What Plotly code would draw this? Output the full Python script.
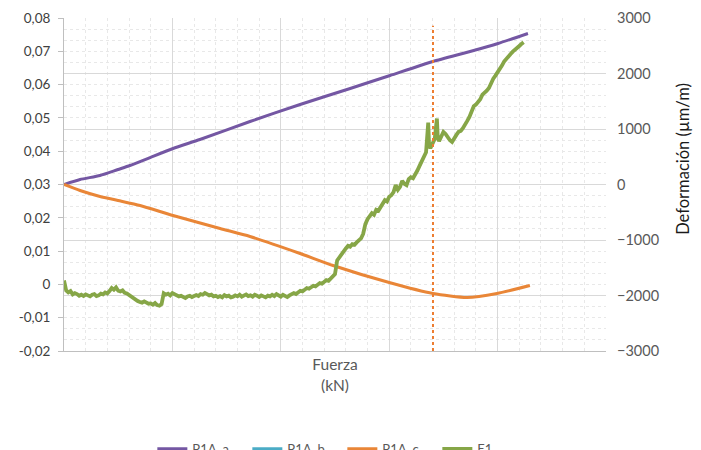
import plotly.graph_objects as go

# Strain gauges (µm/m) vs applied force (kN)
p1a_a_x = [0, 7.4, 16.6, 24.9, 30.4, 39.7, 50.3, 62.7, 85.8, 108.9, 132.0, 150.4, 170.2, 187.3, 200.2, 214.0]
p1a_a_y = [0, 90, 162, 270, 342, 486, 649, 811, 1135, 1441, 1730, 1964, 2216, 2396, 2541, 2721]

# P1A_b has no readings in this test
p1a_b_x = [None]
p1a_b_y = [None]

p1a_c_x = [0, 7.4, 16.6, 24.9, 35.1, 50.3, 72.0, 85.8, 108.9, 124.1, 150.0, 170.2, 185.9, 199.7, 214.9]
p1a_c_y = [0, -108, -216, -288, -378, -559, -793, -937, -1243, -1459, -1766, -1964, -2036, -1964, -1820]

# E1 reading (left axis)
e1_x = list(range(0, 168)) + [168, 168.4, 169, 170, 171, 172, 172.4] + list(range(173, 213))
e1_y = [
    0.0012, -0.0018, -0.0024, -0.0020, -0.0030, -0.0026, -0.0029, -0.0034, -0.0031, -0.0035,
    -0.0030, -0.0034, -0.0036, -0.0031, -0.0029, -0.0035, -0.0033, -0.0028, -0.0030, -0.0024,
    -0.0027, -0.0020, -0.0011, -0.0016, -0.0009, -0.0019, -0.0021, -0.0018, -0.0025, -0.0027,
    -0.0032, -0.0036, -0.0042, -0.0046, -0.0050, -0.0053, -0.0055, -0.0051, -0.0054, -0.0058,
    -0.0057, -0.0061, -0.0056, -0.0062, -0.0064, -0.0059, -0.0027, -0.0031, -0.0028, -0.0033,
    -0.0026, -0.0030, -0.0032, -0.0036, -0.0034, -0.0039, -0.0041, -0.0036, -0.0034, -0.0038,
    -0.0036, -0.0032, -0.0035, -0.0029, -0.0031, -0.0026, -0.0029, -0.0033, -0.0031, -0.0036,
    -0.0034, -0.0038, -0.0035, -0.0039, -0.0032, -0.0036, -0.0034, -0.0039, -0.0037, -0.0033,
    -0.0036, -0.0031, -0.0037, -0.0034, -0.0030, -0.0035, -0.0033, -0.0037, -0.0031, -0.0034,
    -0.0038, -0.0033, -0.0035, -0.0039, -0.0034, -0.0036, -0.0031, -0.0035, -0.0029, -0.0034,
    -0.0037, -0.0031, -0.0034, -0.0038, -0.0033, -0.0030, -0.0026, -0.0029, -0.0022, -0.0019,
    -0.0021, -0.0014, -0.0011, -0.0013, -0.0007, -0.0004, -0.0006, 0.0001, 0.0004, 0.0002,
    0.0009, 0.0013, 0.0011, 0.0018, 0.0024, 0.0031, 0.0072, 0.0081, 0.0094, 0.0102,
    0.0108, 0.0116, 0.0113, 0.0121, 0.0119, 0.0126, 0.0131, 0.0138, 0.0152, 0.0181,
    0.0196, 0.0203, 0.0214, 0.0209, 0.0224, 0.0221, 0.0233, 0.0241, 0.0253, 0.0249,
    0.0263, 0.0268, 0.0277, 0.0298, 0.0284, 0.0293, 0.0311, 0.0302, 0.0298, 0.0316,
    0.0322, 0.0319, 0.0334, 0.0342, 0.0356, 0.0368, 0.0381, 0.0397,
    0.0486, 0.0418, 0.0409, 0.0424, 0.0437, 0.0498, 0.0441,
    0.0430, 0.0447, 0.0458, 0.0452, 0.0441, 0.0433, 0.0428, 0.0441, 0.0449, 0.0458,
    0.0461, 0.0469, 0.0478, 0.0491, 0.0503, 0.0516, 0.0535, 0.0540, 0.0548, 0.0556,
    0.0570, 0.0575, 0.0582, 0.0590, 0.0605, 0.0618, 0.0627, 0.0636, 0.0648, 0.0657,
    0.0669, 0.0678, 0.0684, 0.0692, 0.0699, 0.0706, 0.0711, 0.0716, 0.0722, 0.0727,
]

# Reference force marker
marker_force = 170.2
marker_top = 0.0777

COL_A = "#7457A3"
COL_B = "#4BACC6"
COL_C = "#E98637"
COL_E = "#86A647"

fig = go.Figure()
fig.add_trace(go.Scatter(x=p1a_a_x, y=p1a_a_y, name="P1A_a", mode="lines",
                         line=dict(color=COL_A, width=3, shape="spline", smoothing=0.6), yaxis="y"))
fig.add_trace(go.Scatter(x=p1a_b_x, y=p1a_b_y, name="P1A_b", mode="lines",
                         line=dict(color=COL_B, width=3), yaxis="y"))
fig.add_trace(go.Scatter(x=p1a_c_x, y=p1a_c_y, name="P1A_c", mode="lines",
                         line=dict(color=COL_C, width=3, shape="spline", smoothing=0.6), yaxis="y"))
fig.add_trace(go.Scatter(x=e1_x, y=e1_y, name="E1", mode="lines",
                         line=dict(color=COL_E, width=3.8), yaxis="y2"))

fig.add_shape(type="line", x0=marker_force, x1=marker_force, y0=-0.02, y1=marker_top,
              xref="x", yref="y2", line=dict(color="#ED7D31", width=2, dash="dot"))

fig.add_annotation(text="Deformación (µm/m)", xref="paper", yref="paper",
                   x=1.142, y=0.577, xanchor="center", yanchor="middle",
                   textangle=-90, showarrow=False,
                   font=dict(size=16.5, color="#1A1A1A"))

fig.update_layout(
    width=701, height=450,
    margin=dict(l=64, r=95, t=18, b=99, autoexpand=False),
    paper_bgcolor="white", plot_bgcolor="white",
    separators=",.",
    font=dict(family="Lato, 'Open Sans', sans-serif", color="#595959"),
    showlegend=True,
    legend=dict(orientation="h", x=0.163, xanchor="left", y=-0.249, yanchor="top",
                entrywidth=50, font=dict(size=13, color="#595959"), bgcolor="rgba(0,0,0,0)"),
    xaxis=dict(range=[0, 250], dtick=50, showticklabels=False, ticks="",
               showgrid=True, gridcolor="#D9D9D9", gridwidth=1,
               minor=dict(dtick=10, showgrid=True, gridcolor="#E8E8E8", griddash="3px,3px"),
               showline=True, linecolor="#BFBFBF", linewidth=1, zeroline=False,
               title=dict(text="Fuerza<br>(kN)", font=dict(size=15.5, color="#595959"), standoff=8)),
    yaxis=dict(range=[-3000, 3000], dtick=1000, side="right",
               showgrid=True, gridcolor="#D9D9D9", gridwidth=1,
               minor=dict(dtick=200, showgrid=True, gridcolor="#E8E8E8", griddash="3px,3px"),
               zeroline=False, showline=False, ticks="", ticklabelstandoff=10,
               tickfont=dict(size=14.5, color="#595959")),
    yaxis2=dict(range=[-0.02, 0.08], overlaying="y", side="left",
                showgrid=False, zeroline=False, showline=True, linecolor="#BFBFBF",
                ticks="outside", ticklen=5, tickcolor="#BFBFBF", ticklabelstandoff=5,
                tickfont=dict(size=13.5, color="#404040")),
)
# Left axis labels with comma decimals and a plain "0"
tickvals = [round(-0.02 + 0.01 * i, 2) for i in range(11)]
ticktext = ["0" if abs(v) < 1e-9 else f"{v:.2f}".replace(".", ",") for v in tickvals]
fig.update_layout(yaxis2=dict(tickmode="array", tickvals=tickvals, ticktext=ticktext))

fig.write_html("out.html")
